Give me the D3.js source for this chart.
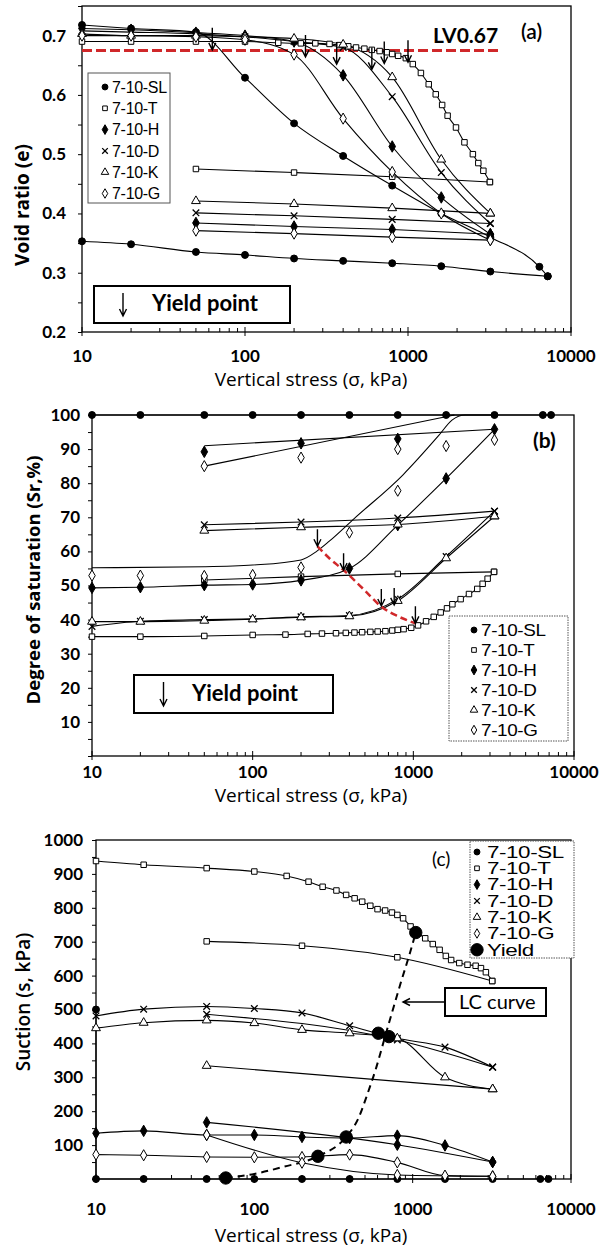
<!DOCTYPE html>
<html>
<head>
<meta charset="utf-8">
<script src="https://cdn.jsdelivr.net/npm/d3@7"></script>
<style>
  body { margin: 0; background: #fff; }
  svg { display: block; }
</style>
</head>
<body>
<svg id="fig" width="608" height="1249"></svg>
<script>
// ---------------- data ----------------
const seriesNames = ["7-10-SL", "7-10-T", "7-10-H", "7-10-D", "7-10-K", "7-10-G"];
const seriesSymbols = ["circle", "square", "diamond", "cross", "triangle", "odiamond"];

const stressMajor = [10, 100, 1000, 10000];
const voidMajor = [0.2, 0.3, 0.4, 0.5, 0.6, 0.7];
const satMajor = [10, 20, 30, 40, 50, 60, 70, 80, 90, 100];
const suctionMajor = [100, 200, 300, 400, 500, 600, 700, 800, 900, 1000];

// loading steps (kPa)
const stressStd = [10, 20, 50, 100, 200, 400, 800, 1600, 3200];
const stressUnload = [50, 200, 800, 3200];
const stressSL = [10, 20, 50, 100, 200, 400, 800, 1600, 3200, 6400, 7200];
const stressSLUnload = [10, 20, 50, 100, 200, 400, 800, 1600, 3200, 7200];
const stressT = [10, 20, 50, 100, 160, 220, 270, 330, 380, 430, 480, 540, 600, 670, 740,
                 800, 870, 970, 1070, 1200, 1340, 1480, 1620, 1750, 1970, 2220, 2500, 2700, 2900, 3180];
const stressTUnload = [50, 200, 800, 3180];

// (a) void ratio
const voidSL = [0.718, 0.712, 0.706, 0.629, 0.552, 0.497, 0.447, 0.400, 0.360, 0.310, 0.294];
const voidSLUnload = [0.353, 0.348, 0.335, 0.330, 0.324, 0.320, 0.316, 0.311, 0.302, 0.294];
const voidT = [0.690, 0.690, 0.690, 0.690, 0.688, 0.687, 0.687, 0.686, 0.684, 0.682,
               0.680, 0.678, 0.676, 0.674, 0.672, 0.669, 0.666, 0.662, 0.652, 0.637,
               0.618, 0.601, 0.583, 0.565, 0.545, 0.520, 0.500, 0.485, 0.472, 0.453];
const voidTUnload = [0.475, 0.469, 0.462, 0.453];
const voidH = [0.712, 0.710, 0.705, 0.700, 0.690, 0.633, 0.513, 0.427, 0.365];
const voidHUnload = [0.384, 0.378, 0.373, 0.365];
const voidD = [0.708, 0.706, 0.703, 0.698, 0.690, 0.680, 0.597, 0.469, 0.383];
const voidDUnload = [0.401, 0.396, 0.390, 0.383];
const voidK = [0.703, 0.700, 0.700, 0.698, 0.695, 0.685, 0.630, 0.491, 0.400];
const voidKUnload = [0.421, 0.416, 0.409, 0.400];
const voidG = [0.700, 0.700, 0.698, 0.693, 0.668, 0.560, 0.470, 0.400, 0.355];
const voidGUnload = [0.371, 0.366, 0.360, 0.355];
const lvStress = [10, 3650];
const lvVoid = 0.675;
const yieldStressA = [63, 235, 365, 600, 715, 1000];
const yieldVoidA = [0.676, 0.664, 0.652, 0.643, 0.653, 0.655];

// (b) degree of saturation
const satSL = [100, 100, 100, 100, 100, 100, 100, 100, 100, 100, 100];
const satT = [35.0, 35.0, 35.2, 35.5, 35.6, 35.8, 35.9, 36.0, 36.1, 36.2,
              36.3, 36.4, 36.5, 36.6, 36.8, 37.0, 37.2, 37.6, 38.3, 39.5,
              40.8, 42.1, 43.3, 44.5, 46.0, 47.5, 49.0, 50.5, 52.0, 54.0];
const satTUnload = [51.6, 52.6, 53.4, 54.0];
const satH = [49.3, 49.5, 50.1, 50.3, 51.5, 55.0, 67.7, 81.4, 95.8];
const satHUnloadStress = [50, 200, 800];
const satHUnload = [89.2, 91.7, 93.0];
const fitHUnloadStress = [50, 3200];
const fitHUnloadSat = [91.0, 95.8];
const satD = [38.0, 39.5, 40.0, 40.2, 40.8, 41.2, 46.0, 58.5, 71.8];
const satDUnload = [67.8, 68.6, 69.8, 71.8];
const satK = [39.4, 39.4, 39.7, 40.1, 40.7, 41.0, 45.5, 58.0, 70.3];
const satKUnload = [66.1, 67.1, 67.9, 70.3];
const satG = [52.9, 52.9, 52.8, 53.1, 55.3, 65.5, 77.8, 90.9, 92.7];
const satGUnloadStress = [50, 200, 800];
const satGUnload = [85.0, 87.5, 90.0];
const fitGStress = [10, 50, 100, 200, 250, 300, 430, 860, 1440, 1740, 2100, 3200];
const fitGSat = [55.2, 55.5, 56.0, 57.5, 60.0, 63.0, 69.7, 82.4, 94.0, 98.5, 100, 100];
const fitGUnloadStress = [50, 1800];
const fitGUnloadSat = [85.0, 100];
const yieldStressB = [253, 368, 632, 760, 1030];
const yieldSatB = [61.5, 54.5, 44.0, 44.3, 38.9];
const trendStressB = [253, 300, 368, 500, 632, 800, 1030];
const trendSatB = [61.5, 58.0, 54.5, 48.5, 43.8, 41.0, 38.9];

// (c) suction
const stressSLc = [10, 10, 20, 50, 100, 200, 400, 800, 1600, 3200, 6400, 7200];
const suctionSL = [500, 0, 0, 0, 0, 0, 0, 0, 0, 0, 0, 0];
const suctionT = [938, 927, 917, 907, 894, 877, 862, 851, 838, 828,
                  818, 806, 796, 792, 786, 779, 769, 745, 727, 710,
                  693, 676, 658, 646, 637, 632, 629, 622, 610, 584];
const suctionTUnload = [701, 688, 654, 584];
const suctionH = [135, 142, 130, 130, 124, 121, 128, 99, 50];
const suctionHUnloadStress = [50, 800, 3200];
const suctionHUnload = [167, 101, 50];
const suctionD = [481, 501, 509, 503, 490, 452, 415, 389, 330];
const suctionDUnloadStress = [50, 800, 3200];
const suctionDUnload = [486, 410, 330];
const suctionK = [445, 461, 468, 460, 440, 430, 415, 300, 265];
const suctionKUnloadStress = [50, 3200];
const suctionKUnload = [334, 265];
const suctionG = [72, 70, 65, 64, 65, 72, 49, 10, 8];
const suctionGUnload = [130, 48, 12, 8];
const yieldStressC = [66, 252, 380, 607, 708, 1046];
const yieldSuctionC = [3, 67, 124, 430, 420, 727];
const lcStress = [66, 100, 150, 252, 380, 450, 520, 590, 660, 760, 840, 960, 1046];
const lcSuction = [3, 15, 35, 67, 124, 175, 253, 330, 410, 509, 578, 666, 727];

// ---------------- drawing ----------------
const svg = d3.select("#fig");
const LABEL_FONT = "Lato, 'Open Sans', sans-serif";
const TITLE_FONT = "'Open Sans', Lato, sans-serif";
const LEGEND_FONT = "'Liberation Sans', Arial, sans-serif";
const RED = "#d0282a";

function drawMarker(g, type, cx, cy, k = 1) {
  if (type === "cross") {
    const r = 3.3 * k;
    g.append("path")
      .attr("d", `M${cx - r},${cy - r}L${cx + r},${cy + r}M${cx - r},${cy + r}L${cx + r},${cy - r}`)
      .attr("stroke", "#000").attr("stroke-width", 1.3).attr("fill", "none");
    return;
  }
  const spec = {
    circle: [d3.symbolCircle, "#000", 38],
    square: [d3.symbolSquare, "#fff", 30],
    diamond: [d3.symbolDiamond, "#000", 38],
    triangle: [d3.symbolTriangle, "#fff", 34],
    odiamond: [d3.symbolDiamond, "#fff", 36],
    yield: [d3.symbolCircle, "#000", 120]
  }[type];
  g.append("path")
    .attr("d", d3.symbol().type(spec[0]).size(spec[2] * k * k)())
    .attr("transform", `translate(${cx},${cy})`)
    .attr("fill", spec[1]).attr("stroke", "#000").attr("stroke-width", 1);
}

function downArrow(g, x, yTip, len) {
  g.append("path")
    .attr("d", `M${x},${yTip - len}L${x},${yTip}M${x - 3.5},${yTip - 7}L${x},${yTip}L${x + 3.5},${yTip - 7}`)
    .attr("stroke", "#000").attr("stroke-width", 1.4).attr("fill", "none");
}

function makePanel(o) {
  const x = d3.scaleLog().domain([10, 10000]).range([o.left, o.right]);
  const y = d3.scaleLinear().domain(o.yDomain).range([o.bottom, o.top]);
  const g = svg.append("g");

  // y axis (outward ticks, labels on majors only)
  const minor = d3.range(o.yDomain[0], o.yDomain[1] + 1e-9, o.minorStep);
  const yAxis = d3.axisLeft(y).tickValues(minor).tickSize(4).tickSizeOuter(0).tickPadding(o.yPad)
    .tickFormat(v => o.yMajor.some(m => Math.abs(m - v) < 1e-9) ? o.yFmt(v) : "");
  const ga = g.append("g").attr("transform", `translate(${o.left},0)`).call(yAxis);
  ga.select(".domain").remove();
  ga.selectAll("line").attr("stroke", "#000");
  ga.selectAll("text").attr("font-family", LABEL_FONT).attr("font-weight", 700)
    .attr("font-size", 17).attr("fill", "#000");

  // x axis: log ticks pointing into the plot
  const xt = g.append("g").attr("stroke", "#000").attr("stroke-width", 1);
  [10, 100, 1000].forEach(dec => {
    d3.range(2, 10).forEach(m => {
      const px = x(dec * m);
      xt.append("line").attr("x1", px).attr("x2", px).attr("y1", o.bottom).attr("y2", o.bottom - 4);
    });
  });
  stressMajor.forEach(v => {
    xt.append("line").attr("x1", x(v)).attr("x2", x(v)).attr("y1", o.bottom + 4).attr("y2", o.bottom - 5);
    g.append("text").attr("x", x(v)).attr("y", o.bottom + o.xLabelDy)
      .attr("text-anchor", "middle").attr("font-family", LABEL_FONT).attr("font-weight", 700)
      .attr("font-size", 17).text(v);
  });

  // frame
  g.append("rect").attr("x", o.left).attr("y", o.top)
    .attr("width", o.right - o.left).attr("height", o.bottom - o.top)
    .attr("fill", "none").attr("stroke", "#000").attr("stroke-width", 1.3);

  // axis titles
  g.append("text").attr("x", 311).attr("y", o.bottom + o.xTitleDy)
    .attr("text-anchor", "middle").attr("font-family", TITLE_FONT).attr("font-size", 19)
    .text("Vertical stress (σ, kPa)");
  g.append("text")
    .attr("transform", `translate(${o.yTitleX},${o.yTitleY}) rotate(-90)`)
    .attr("text-anchor", "middle").attr("dominant-baseline", "central")
    .attr("font-family", TITLE_FONT).attr("font-weight", o.yTitleWeight).attr("font-size", o.yTitleSize)
    .text(o.yTitle);

  const lines = g.append("g");
  const marks = g.append("g");
  return { g, x, y, lines, marks };
}

function drawSeries(p, s) {
  const line = d3.line().x(d => p.x(d[0])).y(d => p.y(d[1])).curve(s.curve || d3.curveMonotoneX);
  s.lines.forEach(([xs, ys]) => {
    p.lines.append("path").attr("d", line(d3.zip(xs, ys)))
      .attr("fill", "none").attr("stroke", "#000").attr("stroke-width", 1.1);
  });
  (s.points || s.lines).forEach(([xs, ys]) => {
    xs.forEach((v, i) => drawMarker(p.marks, s.sym, p.x(v), p.y(ys[i])));
  });
}

function legend(g, box, rowY0, rowStep, entries, fontSize, stretch, markerX, textX, dashed) {
  g.append("rect").attr("x", box[0]).attr("y", box[1]).attr("width", box[2]).attr("height", box[3])
    .attr("fill", "#fff").attr("stroke", "#555").attr("stroke-width", 1)
    .attr("stroke-dasharray", dashed ? "1.5,1" : null);
  entries.forEach((e, i) => {
    const cy = rowY0 + i * rowStep;
    drawMarker(g, e.sym, markerX, cy, e.sym === "yield" ? 1 : 0.85);
    g.append("text").attr("transform", `translate(${textX},${cy}) scale(${stretch},1)`)
      .attr("dy", "0.36em").attr("font-family", LEGEND_FONT).attr("font-size", fontSize)
      .attr("letter-spacing", -0.3).text(e.name);
  });
}

function yieldBox(g, x0, y0, w, h, arrowX, textX, baseline) {
  g.append("rect").attr("x", x0).attr("y", y0).attr("width", w).attr("height", h)
    .attr("fill", "#fff").attr("stroke", "#000").attr("stroke-width", 2);
  downArrow(g, arrowX, y0 + h - 7, h - 14);
  g.append("text").attr("x", textX).attr("y", baseline).attr("font-family", LABEL_FONT)
    .attr("font-weight", 700).attr("font-size", 22).text("Yield point");
}

const legendEntries = seriesNames.map((n, i) => ({ name: n, sym: seriesSymbols[i] }));

// ----- panel (a): void ratio -----
const pa = makePanel({
  left: 82, right: 571, top: 6, bottom: 332, yDomain: [0.2, 0.75], minorStep: 0.05,
  yMajor: voidMajor, yFmt: d3.format(".1f"), yPad: 12, xLabelDy: 30, xTitleDy: 54,
  yTitle: "Void ratio (e)", yTitleX: 22, yTitleY: 205, yTitleWeight: 700, yTitleSize: 19
});
// LV line
pa.lines.append("line").attr("x1", pa.x(lvStress[0])).attr("x2", pa.x(lvStress[1]))
  .attr("y1", pa.y(lvVoid)).attr("y2", pa.y(lvVoid))
  .attr("stroke", RED).attr("stroke-width", 3).attr("stroke-dasharray", "10,4");
[
  { sym: "circle", lines: [[stressSL, voidSL], [stressSLUnload, voidSLUnload]] },
  { sym: "square", lines: [[stressT, voidT], [stressTUnload, voidTUnload]] },
  { sym: "diamond", lines: [[stressStd, voidH], [stressUnload, voidHUnload]] },
  { sym: "cross", lines: [[stressStd, voidD], [stressUnload, voidDUnload]] },
  { sym: "triangle", lines: [[stressStd, voidK], [stressUnload, voidKUnload]] },
  { sym: "odiamond", lines: [[stressStd, voidG], [stressUnload, voidGUnload]] }
].forEach(s => drawSeries(pa, s));
yieldStressA.forEach((v, i) => downArrow(pa.g, pa.x(v), pa.y(yieldVoidA[i]), 22));
pa.g.append("text").attr("x", 433).attr("y", 43).attr("font-family", LABEL_FONT)
  .attr("font-weight", 700).attr("font-size", 21).text("LV0.67");
pa.g.append("text").attr("x", 521).attr("y", 39).attr("font-family", LABEL_FONT)
  .attr("font-weight", 600).attr("font-size", 21).text("(a)");
legend(pa.g, [88, 73, 82, 130], 87, 21.3, legendEntries, 16, 1.0, 105, 112, false);
yieldBox(pa.g, 94, 286, 196, 37, 123, 152, 311);

// ----- panel (b): degree of saturation -----
const pb = makePanel({
  left: 92, right: 574, top: 415, bottom: 756, yDomain: [0, 100], minorStep: 5,
  yMajor: satMajor, yFmt: d3.format("d"), yPad: 8, xLabelDy: 22, xTitleDy: 46,
  yTitle: "Degree of saturation (Sr,%)", yTitleX: 32, yTitleY: 580, yTitleWeight: 700, yTitleSize: 18.5
});
[
  { sym: "circle", lines: [[stressSL, satSL]] },
  { sym: "square", lines: [[stressT, satT], [stressTUnload, satTUnload]] },
  { sym: "diamond", lines: [[stressStd, satH], [fitHUnloadStress, fitHUnloadSat]],
    points: [[stressStd, satH], [satHUnloadStress, satHUnload]] },
  { sym: "cross", lines: [[stressStd, satD], [stressUnload, satDUnload]] },
  { sym: "triangle", lines: [[stressStd, satK], [stressUnload, satKUnload]] },
  { sym: "odiamond", lines: [[fitGStress, fitGSat], [fitGUnloadStress, fitGUnloadSat]],
    points: [[stressStd, satG], [satGUnloadStress, satGUnload]] }
].forEach(s => drawSeries(pb, s));
pb.lines.append("path")
  .attr("d", d3.line().x(d => pb.x(d[0])).y(d => pb.y(d[1])).curve(d3.curveMonotoneX)(d3.zip(trendStressB, trendSatB)))
  .attr("fill", "none").attr("stroke", RED).attr("stroke-width", 2.5).attr("stroke-dasharray", "7,4");
yieldStressB.forEach((v, i) => downArrow(pb.g, pb.x(v), pb.y(yieldSatB[i]), 17));
pb.g.append("text").attr("x", 533).attr("y", 448).attr("font-family", LABEL_FONT)
  .attr("font-weight", 700).attr("font-size", 21).text("(b)");
legend(pb.g, [449, 616, 119, 125], 630, 20, legendEntries, 16, 1.18, 474, 481, true);
yieldBox(pb.g, 134, 675, 199, 38, 163.5, 192, 701);

// ----- panel (c): suction -----
const pc = makePanel({
  left: 96, right: 571, top: 840, bottom: 1179, yDomain: [0, 1000], minorStep: 50,
  yMajor: suctionMajor, yFmt: d3.format("d"), yPad: 9, xLabelDy: 36, xTitleDy: 63,
  yTitle: "Suction (s, kPa)", yTitleX: 23, yTitleY: 1002, yTitleWeight: 600, yTitleSize: 19
});
[
  { sym: "circle", lines: [[stressSLc, suctionSL]], curve: d3.curveLinear },
  { sym: "square", lines: [[stressT, suctionT], [stressTUnload, suctionTUnload]] },
  { sym: "diamond", lines: [[stressStd, suctionH], [suctionHUnloadStress, suctionHUnload]] },
  { sym: "cross", lines: [[stressStd, suctionD], [suctionDUnloadStress, suctionDUnload]] },
  { sym: "triangle", lines: [[stressStd, suctionK], [suctionKUnloadStress, suctionKUnload]] },
  { sym: "odiamond", lines: [[stressStd, suctionG], [stressUnload, suctionGUnload]] }
].forEach(s => drawSeries(pc, s));
pc.lines.append("path")
  .attr("d", d3.line().x(d => pc.x(d[0])).y(d => pc.y(d[1])).curve(d3.curveMonotoneX)(d3.zip(lcStress, lcSuction)))
  .attr("fill", "none").attr("stroke", "#000").attr("stroke-width", 2).attr("stroke-dasharray", "7,5");
yieldStressC.forEach((v, i) => drawMarker(pc.marks, "yield", pc.x(v), pc.y(yieldSuctionC[i])));
pc.g.append("text").attr("x", 432).attr("y", 866).attr("font-family", LABEL_FONT)
  .attr("font-size", 19).text("(c)");
legend(pc.g, [470, 841, 104, 117], 852, 16.3,
  legendEntries.concat([{ name: "Yield", sym: "yield" }]), 16, 1.4, 477, 487, true);
// LC curve callout
pc.g.append("rect").attr("x", 445).attr("y", 988).attr("width", 101).attr("height", 28)
  .attr("fill", "#fff").attr("stroke", "#000").attr("stroke-width", 2);
pc.g.append("text").attr("x", 459).attr("y", 1009).attr("font-family", LABEL_FONT)
  .attr("font-size", 20).text("LC curve");
pc.g.append("path").attr("d", "M445,1002L403,1002M410,998.5L403,1002L410,1005.5")
  .attr("stroke", "#000").attr("stroke-width", 1.4).attr("fill", "none");
</script>
</body>
</html>
